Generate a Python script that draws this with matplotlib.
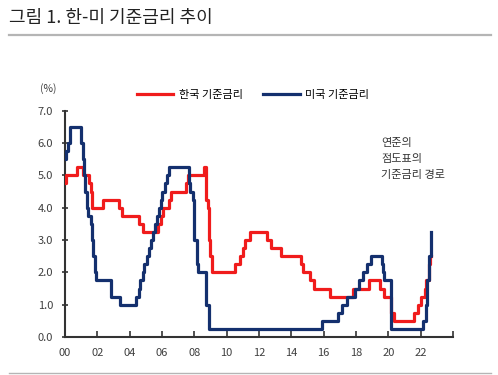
import matplotlib
matplotlib.use("Agg")
import matplotlib.pyplot as plt
from matplotlib.lines import Line2D

plt.rcParams['font.family'] = ['Noto Sans CJK KR', 'DejaVu Sans']

# 기준금리 변경 시점(연-월)과 금리(%)
kr_dates = ['2000-01', '2000-02', '2000-10', '2001-02', '2001-07', '2001-08', '2001-09',
            '2002-05', '2003-05', '2003-07', '2004-08', '2004-11', '2005-10', '2005-12',
            '2006-02', '2006-06', '2006-08', '2007-07', '2007-08', '2008-08', '2008-10',
            '2008-11', '2008-12', '2009-01', '2009-02', '2010-07', '2010-11', '2011-01',
            '2011-03', '2011-06', '2012-07', '2012-10', '2013-05', '2014-08', '2014-10',
            '2015-03', '2015-06', '2016-06', '2017-11', '2018-11', '2019-07', '2019-10',
            '2020-03', '2020-05', '2021-08', '2021-11', '2022-01', '2022-04', '2022-05',
            '2022-07', '2022-08', '2022-09']
kr_rates = [4.75, 5.0, 5.25, 5.0, 4.75, 4.5, 4.0,
            4.25, 4.0, 3.75, 3.5, 3.25, 3.5, 3.75,
            4.0, 4.25, 4.5, 4.75, 5.0, 5.25, 4.25,
            4.0, 3.0, 2.5, 2.0, 2.25, 2.5, 2.75,
            3.0, 3.25, 3.0, 2.75, 2.5, 2.25, 2.0,
            1.75, 1.5, 1.25, 1.5, 1.75, 1.5, 1.25,
            0.75, 0.5, 0.75, 1.0, 1.25, 1.5, 1.75,
            2.25, 2.5, 2.5]

us_dates = ['2000-01', '2000-02', '2000-03', '2000-05', '2001-01', '2001-02', '2001-03',
            '2001-04', '2001-05', '2001-06', '2001-08', '2001-09', '2001-10', '2001-11',
            '2001-12', '2002-11', '2003-06', '2004-06', '2004-08', '2004-09', '2004-11',
            '2004-12', '2005-02', '2005-03', '2005-05', '2005-06', '2005-08', '2005-09',
            '2005-11', '2005-12', '2006-01', '2006-03', '2006-05', '2006-06', '2007-09',
            '2007-10', '2007-12', '2008-01', '2008-03', '2008-04', '2008-10', '2008-12',
            '2015-12', '2016-12', '2017-03', '2017-06', '2017-12', '2018-03', '2018-06',
            '2018-09', '2018-12', '2019-08', '2019-09', '2019-10', '2020-03', '2022-03',
            '2022-05', '2022-06', '2022-07', '2022-09']
us_rates = [5.5, 5.75, 6.0, 6.5, 6.0, 5.5, 5.0,
            4.5, 4.0, 3.75, 3.5, 3.0, 2.5, 2.0,
            1.75, 1.25, 1.0, 1.25, 1.5, 1.75, 2.0,
            2.25, 2.5, 2.75, 3.0, 3.25, 3.5, 3.75,
            4.0, 4.25, 4.5, 4.75, 5.0, 5.25, 4.75,
            4.5, 4.25, 3.0, 2.25, 2.0, 1.0, 0.25,
            0.5, 0.75, 1.0, 1.25, 1.5, 1.75, 2.0,
            2.25, 2.5, 2.25, 2.0, 1.75, 0.25, 0.5,
            1.0, 1.75, 2.5, 3.25]

x_ticks = list(range(0, 23, 2))
x_labels = ['%02d' % t for t in x_ticks]
y_ticks = [0, 1, 2, 3, 4, 5, 6, 7]


def to_x(d):
    y, m = d.split('-')
    return int(y) - 2000 + (int(m) - 1) / 12.0


kr_x = [to_x(d) for d in kr_dates]
us_x = [to_x(d) for d in us_dates]

RED = '#f01c1c'
NAVY = '#14306e'
GRAY = '#404040'

fig = plt.figure(figsize=(4.98, 3.75), dpi=100)
ax = fig.add_axes([0.1305, 0.1013, 0.779, 0.6035])

ax.plot(kr_x, kr_rates, drawstyle='steps-post', color=RED, lw=2.3, zorder=3)
ax.plot(us_x, us_rates, drawstyle='steps-post', color=NAVY, lw=2.3, zorder=3)

ax.set_xlim(0, 24)
ax.set_ylim(0, 7)
ax.set_xticks(x_ticks + [24])
ax.set_xticklabels(x_labels + [''])
ax.set_yticks(y_ticks)
ax.set_yticklabels(['%.1f' % v for v in y_ticks])
ax.tick_params(axis='x', direction='in', length=4, width=1.2, colors='#333333',
               labelcolor=GRAY, labelsize=8, pad=8)
ax.tick_params(axis='y', direction='inout', length=5, width=1.2, colors='#333333',
               labelcolor=GRAY, labelsize=8, pad=6)
for s in ['top', 'right']:
    ax.spines[s].set_visible(False)
for s in ['left', 'bottom']:
    ax.spines[s].set_linewidth(1.5)
    ax.spines[s].set_color('#333333')

fig.text(0.08, 0.765, '(%)', fontsize=7.5, color=GRAY, ha='left', va='center')

# 범례
handles = [Line2D([], [], color=RED, lw=2.3), Line2D([], [], color=NAVY, lw=2.3)]
fig.legend(handles, ['한국 기준금리', '미국 기준금리'], loc='center',
           bbox_to_anchor=(0.508, 0.746), ncol=2, frameon=False, fontsize=8,
           handlelength=3.3, handletextpad=0.5, columnspacing=1.8)

ax.text(0.766, 0.633, '연준의\n점도표의\n기준금리 경로', transform=fig.transFigure,
        fontsize=8, color='#333333', ha='left', va='top', linespacing=1.75)

# 제목
fig.text(0.018, 0.952, '그림 1. 한-미 기준금리 추이', fontsize=13, color='#222222',
         ha='left', va='center', fontweight='medium')
fig.add_artist(Line2D([0.018, 0.985], [0.907, 0.907], color='#b5b5b5', lw=1.6))
fig.add_artist(Line2D([0.018, 0.985], [0.005, 0.005], color='#b5b5b5', lw=1.0))

fig.savefig('out.png', dpi=100)
